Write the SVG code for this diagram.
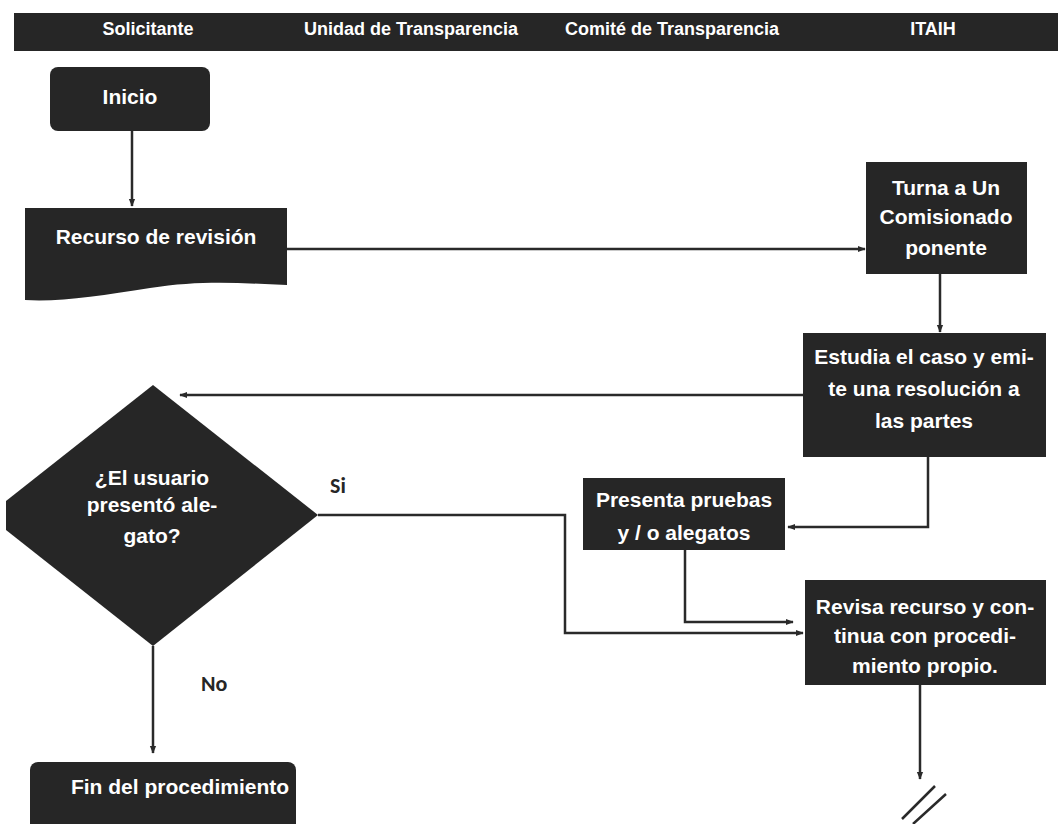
<svg xmlns="http://www.w3.org/2000/svg" width="1058" height="824" viewBox="0 0 1058 824">
<defs>
<marker id="ah" viewBox="0 0 10 10" refX="9" refY="5" markerWidth="8" markerHeight="8" orient="auto-start-reverse" markerUnits="userSpaceOnUse">
<path d="M0,1 L10,5 L0,9 Z" fill="#2a2a2a"/>
</marker>
<style>
.box{fill:#262626;}
.t{font-family:"Liberation Sans",Arial,sans-serif;font-size:21px;font-weight:bold;fill:#ffffff;text-anchor:middle;}
.h{font-family:"Liberation Sans",Arial,sans-serif;font-size:18px;font-weight:bold;fill:#ffffff;text-anchor:middle;}
.lbl{font-family:"Carlito","Liberation Sans",Arial,sans-serif;font-size:22px;font-weight:bold;fill:#262626;}
.c{fill:none;stroke:#2a2a2a;stroke-width:2.5;}
</style>
</defs>
<rect width="1058" height="824" fill="#ffffff"/>
<g id="header">
<rect x="14" y="13" width="1044" height="38" class="box"/>
<text x="148" y="35" class="h">Solicitante</text>
<text x="411" y="35" class="h">Unidad de Transparencia</text>
<text x="672" y="35" class="h">Comité de Transparencia</text>
<text x="933" y="35" class="h">ITAIH</text>
</g>
<g id="connectors">
<path class="c" d="M132,131 V206" marker-end="url(#ah)"/>
<path class="c" d="M287,249 H865" marker-end="url(#ah)"/>
<path class="c" d="M940,274 V332" marker-end="url(#ah)"/>
<path class="c" d="M803,395 H180" marker-end="url(#ah)"/>
<path class="c" d="M928,457 V527 H788" marker-end="url(#ah)"/>
<path class="c" d="M685,550 V622 H793" marker-end="url(#ah)"/>
<path class="c" d="M318,515 H565 V633 H803" marker-end="url(#ah)"/>
<path class="c" d="M153,646 V753" marker-end="url(#ah)"/>
<path class="c" d="M920,685 V779" marker-end="url(#ah)"/>
<path class="c" d="M935,786 L902,819 M946,794 L913,824"/>
<text x="330" y="493" class="lbl">Si</text>
<text x="201" y="691" class="lbl">No</text>
</g>
<g id="inicio">
<rect x="50" y="67" width="160" height="64" rx="8" class="box"/>
<text x="130" y="104" class="t">Inicio</text>
</g>
<g id="recurso">
<path class="box" d="M25,208 H287 V285 C240,283 200,280 150,288 C100,296 60,302 25,300 Z"/>
<text x="156" y="244" class="t">Recurso de revisión</text>
</g>
<g id="turna">
<rect x="866" y="162" width="161" height="112" class="box"/>
<text x="946" y="195" class="t">Turna a Un</text>
<text x="946" y="224" class="t">Comisionado</text>
<text x="946" y="255" class="t">ponente</text>
</g>
<g id="estudia">
<rect x="803" y="333" width="243" height="124" class="box"/>
<text x="924" y="364" class="t">Estudia el caso y emi-</text>
<text x="924" y="396" class="t">te una resolución a</text>
<text x="924" y="428" class="t">las partes</text>
</g>
<g id="decision">
<polygon class="box" points="153,385 318,515 153,646 6,530 6,501"/>
<text x="152" y="485" class="t">¿El usuario</text>
<text x="152" y="512" class="t">presentó ale-</text>
<text x="152" y="543" class="t">gato?</text>
</g>
<g id="presenta">
<rect x="583" y="478" width="202" height="72" class="box"/>
<text x="684" y="507" class="t">Presenta pruebas</text>
<text x="684" y="540" class="t">y / o alegatos</text>
</g>
<g id="revisa">
<rect x="805" y="580" width="241" height="105" class="box"/>
<text x="925" y="614" class="t">Revisa recurso y con-</text>
<text x="925" y="643" class="t">tinua con procedi-</text>
<text x="925" y="673" class="t">miento propio.</text>
</g>
<g id="fin">
<rect x="30" y="762" width="266" height="70" rx="8" class="box"/>
<text x="180" y="794" class="t">Fin del procedimiento</text>
</g>
</svg>
